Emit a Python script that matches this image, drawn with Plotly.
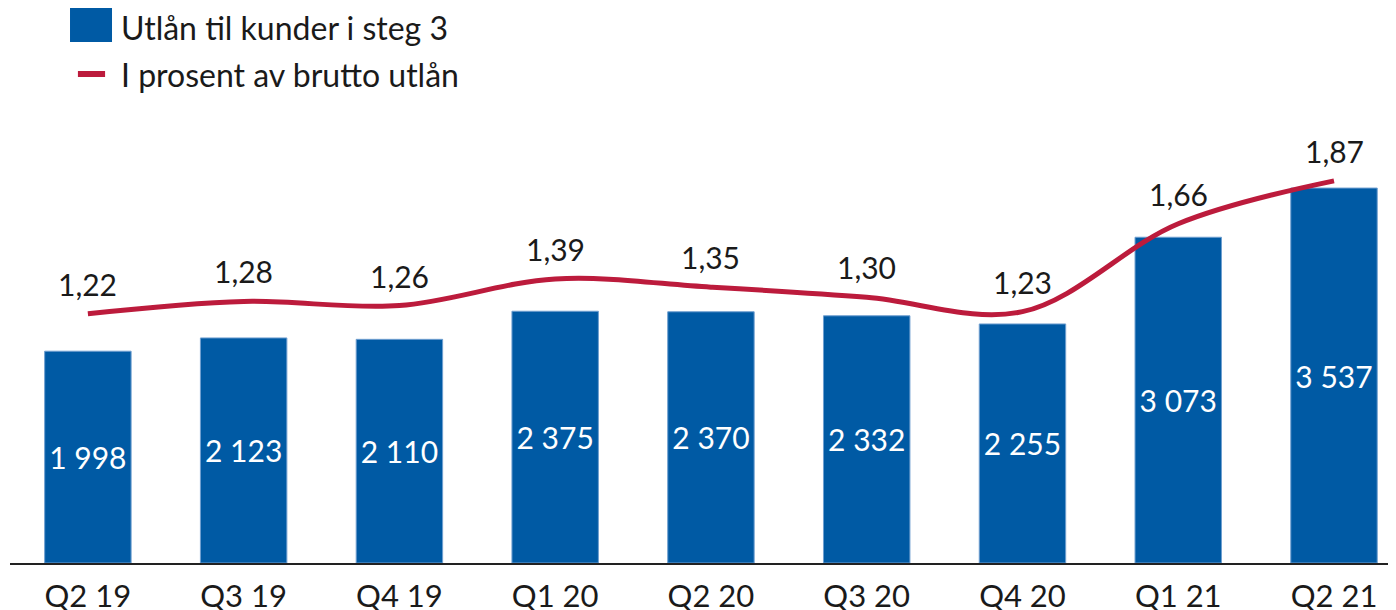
import plotly.graph_objects as go

categories = ["Q2 19", "Q3 19", "Q4 19", "Q1 20", "Q2 20", "Q3 20", "Q4 20", "Q1 21", "Q2 21"]
loans_stage3 = [1998, 2123, 2110, 2375, 2370, 2332, 2255, 3073, 3537]
pct_gross = [1.22, 1.28, 1.26, 1.39, 1.35, 1.30, 1.23, 1.66, 1.87]

BAR_NAME = "Utlån til kunder i steg 3"
LINE_NAME = "I prosent av brutto utlån"

BLUE = "#005AA4"
RED = "#BC1B3C"
FONT = "Lato"
TXT = "#1a1a1a"

fig = go.Figure()
fig.add_trace(go.Bar(
    x=categories, y=loans_stage3, name=BAR_NAME,
    marker=dict(color=BLUE, line=dict(color="#6f9fd0", width=1)),
    width=0.555,
    texttemplate="%{y:,.0f}", textposition="inside", insidetextanchor="middle",
    textangle=0, textfont=dict(family=FONT, size=30, color="white"),
    showlegend=False, cliponaxis=False,
))
fig.add_trace(go.Scatter(
    x=categories, y=pct_gross, name=LINE_NAME, yaxis="y2",
    mode="lines", line=dict(color=RED, width=5, shape="spline", smoothing=1.0),
    showlegend=False,
))

annotations = []
for c, v in zip(categories, pct_gross):
    annotations.append(dict(
        x=c, y=v, xref="x", yref="y2", text=f"{v:.2f}".replace(".", ","),
        showarrow=False, yshift=30, font=dict(family=FONT, size=30, color=TXT),
    ))

# manual legend
annotations.append(dict(x=0.0785, y=1.2077, xref="paper", yref="paper", text=BAR_NAME,
                        showarrow=False, xanchor="left", yanchor="middle",
                        font=dict(family=FONT, size=32, color=TXT)))
annotations.append(dict(x=0.0785, y=1.1016, xref="paper", yref="paper", text=LINE_NAME,
                        showarrow=False, xanchor="left", yanchor="middle",
                        font=dict(family=FONT, size=32, color=TXT)))
shapes = [
    dict(type="rect", xref="paper", yref="paper", x0=0.0433, x1=0.0736, y0=1.1761, y1=1.2528,
         fillcolor=BLUE, line=dict(width=0)),
    dict(type="line", xref="paper", yref="paper", x0=0.0490, x1=0.0686, y0=1.1038, y1=1.1038,
         line=dict(color=RED, width=6)),
]

# page body has an 8px margin, so the figure is sized/offset to compensate
fig.update_layout(
    width=1388, height=602,
    margin=dict(l=2, r=0, t=112, b=47),
    paper_bgcolor="white", plot_bgcolor="white",
    separators=", ",
    font=dict(family=FONT, color=TXT),
    bargap=0.45,
    xaxis=dict(type="category", range=[-0.5, 8.398], showline=True, linecolor="#222222",
               linewidth=2, ticks="", showgrid=False, zeroline=False, ticklabelstandoff=5,
               automargin=False,
               tickfont=dict(family=FONT, size=31, color=TXT)),
    yaxis=dict(range=[0, 4179], visible=False, showgrid=False, zeroline=False, automargin=False),
    yaxis2=dict(range=[0, 2.168], overlaying="y", visible=False, showgrid=False, zeroline=False,
                automargin=False),
    uniformtext=dict(mode="show", minsize=30),
    annotations=annotations, shapes=shapes,
    showlegend=False,
)

fig.write_html("out.html")
